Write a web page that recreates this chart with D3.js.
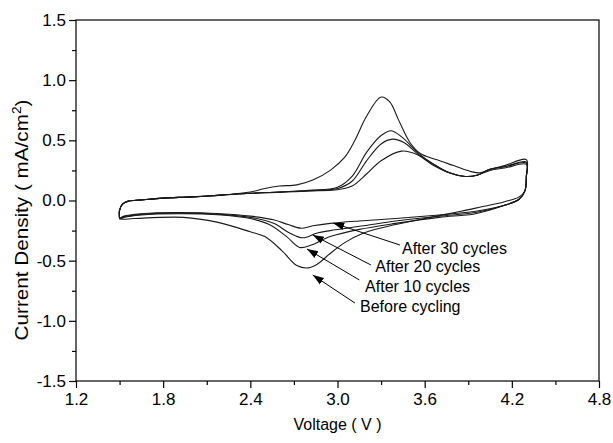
<!DOCTYPE html>
<html>
<head>
<meta charset="utf-8">
<script src="https://cdn.jsdelivr.net/npm/d3@7"></script>
<style>
  body { margin: 0; background: #fff; }
  text { font-family: "Liberation Sans", Arial, sans-serif; fill: #000; }
</style>
</head>
<body>
<div class="canvas"></div>
<script>
// Config
var width = 613,
    height = 443,
    margin = {left: 76, right: 14, top: 20, bottom: 62};

// Data: [voltage (V), current density (mA/cm2)], loop traced anodic then cathodic
var beforeCycling = [
  [1.50,-0.15],[1.50,-0.08],[1.52,-0.03],[1.56,-0.005],[1.65,0.005],[1.8,0.02],[2.0,0.03],[2.2,0.045],
  [2.4,0.07],[2.5,0.10],[2.6,0.12],[2.72,0.13],[2.83,0.17],[2.95,0.25],[3.05,0.36],[3.12,0.50],
  [3.2,0.70],[3.3,0.86],[3.36,0.82],[3.42,0.67],[3.5,0.48],[3.57,0.39],[3.68,0.34],[3.8,0.29],
  [3.92,0.24],[3.98,0.23],[4.05,0.26],[4.15,0.29],[4.3,0.34],
  [4.3,0.2],[4.29,0.08],[4.25,0.03],[4.15,-0.01],[4.0,-0.05],[3.85,-0.09],[3.6,-0.15],[3.4,-0.2],
  [3.18,-0.27],[3.05,-0.35],[2.95,-0.44],[2.86,-0.53],[2.8,-0.56],[2.72,-0.54],[2.62,-0.42],
  [2.5,-0.3],[2.4,-0.26],[2.17,-0.18],[1.94,-0.14],[1.6,-0.15],[1.52,-0.155],[1.50,-0.15]
];
var after10 = [
  [1.50,-0.155],[1.50,-0.08],[1.52,-0.03],[1.56,-0.005],[1.65,0.005],[1.8,0.02],[2.0,0.03],[2.2,0.045],
  [2.4,0.06],[2.6,0.07],[2.8,0.085],[3.0,0.11],[3.1,0.2],[3.2,0.4],[3.3,0.54],[3.37,0.58],
  [3.45,0.52],[3.55,0.40],[3.65,0.31],[3.77,0.23],[3.88,0.2],[3.96,0.21],[4.05,0.26],[4.15,0.28],[4.3,0.32],
  [4.3,0.2],[4.29,0.08],[4.25,0.01],[4.15,-0.04],[3.95,-0.11],[3.7,-0.14],[3.4,-0.19],[3.15,-0.24],
  [2.95,-0.3],[2.82,-0.37],[2.74,-0.39],[2.65,-0.3],[2.53,-0.2],[2.4,-0.15],[2.2,-0.12],[1.9,-0.11],
  [1.65,-0.12],[1.53,-0.14],[1.50,-0.155]
];
var after20 = [
  [1.50,-0.15],[1.50,-0.08],[1.52,-0.03],[1.56,-0.005],[1.65,0.005],[1.8,0.02],[2.0,0.03],[2.2,0.045],
  [2.4,0.06],[2.6,0.07],[2.8,0.08],[3.0,0.10],[3.1,0.16],[3.2,0.33],[3.3,0.47],[3.38,0.51],
  [3.46,0.48],[3.55,0.39],[3.65,0.31],[3.77,0.23],[3.88,0.2],[3.96,0.21],[4.05,0.26],[4.15,0.28],[4.3,0.31],
  [4.3,0.2],[4.29,0.08],[4.25,0.01],[4.15,-0.04],[3.95,-0.10],[3.7,-0.13],[3.4,-0.17],[3.18,-0.21],
  [2.95,-0.25],[2.86,-0.27],[2.76,-0.31],[2.67,-0.27],[2.56,-0.19],[2.4,-0.14],[2.2,-0.115],[1.9,-0.105],
  [1.65,-0.115],[1.53,-0.135],[1.50,-0.15]
];
var after30 = [
  [1.50,-0.15],[1.50,-0.08],[1.52,-0.03],[1.56,-0.005],[1.65,0.005],[1.8,0.02],[2.0,0.03],[2.2,0.045],
  [2.4,0.06],[2.6,0.07],[2.8,0.08],[3.0,0.09],[3.1,0.12],[3.2,0.22],[3.3,0.33],[3.44,0.41],
  [3.55,0.38],[3.65,0.30],[3.77,0.23],[3.88,0.2],[3.96,0.21],[4.05,0.25],[4.15,0.27],[4.3,0.30],
  [4.3,0.2],[4.29,0.08],[4.25,0.01],[4.15,-0.04],[3.95,-0.09],[3.7,-0.12],[3.4,-0.15],[3.15,-0.17],
  [2.95,-0.19],[2.83,-0.21],[2.75,-0.23],[2.66,-0.2],[2.56,-0.16],[2.4,-0.13],[2.2,-0.11],[1.9,-0.1],
  [1.65,-0.11],[1.53,-0.13],[1.50,-0.15]
];
var seriesData = [beforeCycling, after10, after20, after30];

// Annotations: label text, arrow tip, arrow tail, text anchor (data units)
var labels = ['After 30 cycles', 'After 20 cycles', 'After 10 cycles', 'Before cycling'];
var arrowTips = [[2.97,-0.187],[2.83,-0.287],[2.79,-0.403],[2.83,-0.62]];
var arrowTails = [[3.43,-0.37],[3.23,-0.536],[3.15,-0.66],[3.12,-0.852]];
var labelPos = [[3.444,-0.395],[3.26,-0.544],[3.19,-0.711],[3.155,-0.877]];

var xTicks = [1.2, 1.8, 2.4, 3.0, 3.6, 4.2, 4.8];
var xMinor = [1.5, 2.1, 2.7, 3.3, 3.9, 4.5];
var yTicks = [-1.5, -1.0, -0.5, 0, 0.5, 1.0, 1.5];
var yMinor = [-1.25, -0.75, -0.25, 0.25, 0.75, 1.25];

var x = d3.scaleLinear().domain([1.2, 4.8]).range([margin.left, width - margin.right]);
var y = d3.scaleLinear().domain([-1.5, 1.5]).range([height - margin.bottom, margin.top]);

var fmt = function (d) { return d.toFixed(1); };

var svg = d3.select('.canvas').append('svg')
    .attr('width', width)
    .attr('height', height);

svg.append('defs').append('marker')
    .attr('id', 'arrow')
    .attr('viewBox', '0 0 10 10')
    .attr('refX', 10).attr('refY', 5)
    .attr('markerWidth', 11).attr('markerHeight', 11)
    .attr('markerUnits', 'userSpaceOnUse')
    .attr('orient', 'auto-start-reverse')
  .append('path')
    .attr('d', 'M0,1.5L10,5L0,8.5Z')
    .attr('fill', '#000');

// Frame
svg.append('rect')
    .attr('x', x(1.2)).attr('y', y(1.5))
    .attr('width', x(4.8) - x(1.2)).attr('height', y(-1.5) - y(1.5))
    .attr('fill', 'none').attr('stroke', '#000').attr('stroke-width', 1.2);

// Axes
svg.append('g')
    .attr('transform', 'translate(0,' + y(-1.5) + ')')
    .call(d3.axisBottom(x).tickValues(xTicks).tickSize(7).tickPadding(5).tickFormat(fmt));
svg.append('g')
    .attr('transform', 'translate(0,' + y(-1.5) + ')')
    .call(d3.axisBottom(x).tickValues(xMinor).tickSize(4).tickFormat(''));
svg.append('g')
    .attr('transform', 'translate(' + x(1.2) + ',0)')
    .call(d3.axisLeft(y).tickValues(yTicks).tickSize(7).tickPadding(3).tickFormat(fmt));
svg.append('g')
    .attr('transform', 'translate(' + x(1.2) + ',0)')
    .call(d3.axisLeft(y).tickValues(yMinor).tickSize(4).tickFormat(''));

svg.selectAll('.domain').remove();
svg.selectAll('.tick line').attr('stroke', '#000').attr('stroke-width', 1.2);
svg.selectAll('.tick text')
    .style('font-family', '"Liberation Sans", Arial, sans-serif')
    .style('font-size', '17px').attr('fill', '#000');

// Axis titles
svg.append('text')
    .attr('x', (x(1.2) + x(4.8)) / 2).attr('y', 430)
    .attr('text-anchor', 'middle').style('font-size', '16px')
    .text('Voltage ( V )');
var yTitle = svg.append('text')
    .attr('transform', 'translate(28,220) rotate(-90) scale(1.15,1)')
    .attr('text-anchor', 'middle').style('font-size', '18px');
yTitle.append('tspan').text('Current Density ( mA/cm');
yTitle.append('tspan').attr('dy', -7).style('font-size', '12px').text('2');
yTitle.append('tspan').attr('dy', 7).text(')');

// Curves
var line = d3.line()
    .x(function (d) { return x(d[0]); })
    .y(function (d) { return y(d[1]); })
    .curve(d3.curveCatmullRom.alpha(0.5));

svg.selectAll('path.cv')
    .data(seriesData)
    .enter()
    .append('path')
    .attr('class', 'cv')
    .attr('d', line)
    .attr('fill', 'none')
    .attr('stroke', '#1a1a1a')
    .attr('stroke-width', 1.1);

// Annotations
svg.selectAll('line.arrow')
    .data(labels)
    .enter()
    .append('line')
    .attr('class', 'arrow')
    .attr('x1', function (d, i) { return x(arrowTails[i][0]); })
    .attr('y1', function (d, i) { return y(arrowTails[i][1]); })
    .attr('x2', function (d, i) { return x(arrowTips[i][0]); })
    .attr('y2', function (d, i) { return y(arrowTips[i][1]); })
    .attr('stroke', '#000')
    .attr('stroke-width', 1)
    .attr('marker-end', 'url(#arrow)');

svg.selectAll('text.label')
    .data(labels)
    .enter()
    .append('text')
    .attr('class', 'label')
    .attr('x', function (d, i) { return x(labelPos[i][0]); })
    .attr('y', function (d, i) { return y(labelPos[i][1]); })
    .attr('dy', '0.35em')
    .style('font-size', '16px')
    .text(function (d) { return d; });
</script>
</body>
</html>
